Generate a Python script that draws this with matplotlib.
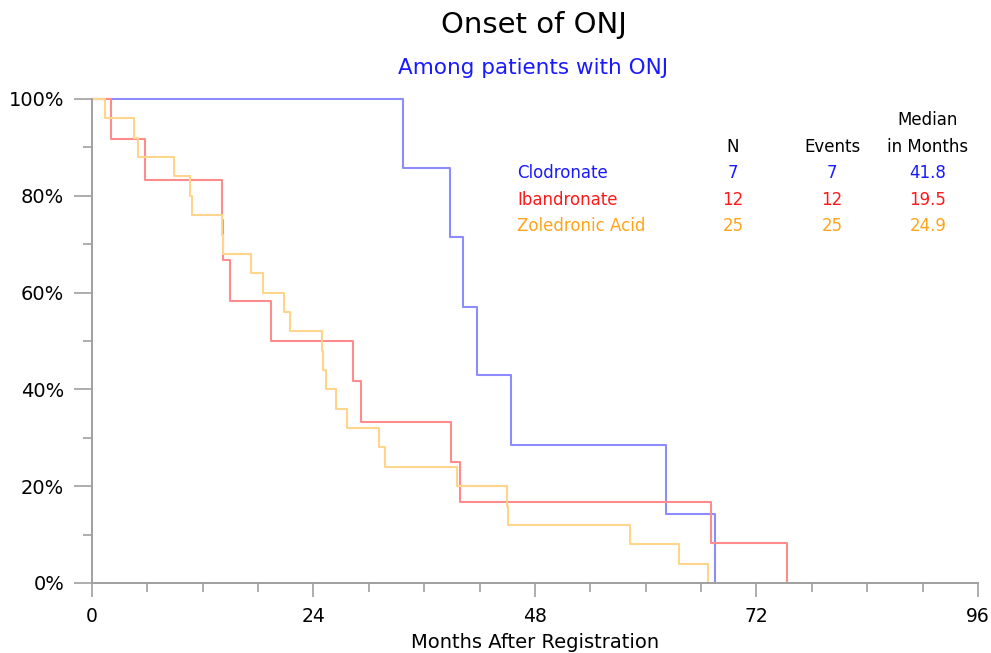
import matplotlib
matplotlib.use('Agg')
import matplotlib.pyplot as plt
from matplotlib.ticker import MultipleLocator, FuncFormatter

# Kaplan-Meier steps (months, percent still free of onset)
clod_t = [0, 33.7, 38.8, 40.2, 41.7, 45.4, 62.2, 67.5]
clod_s = [100, 85.7, 71.4, 57.1, 42.9, 28.6, 14.3, 0]

iban_t = [0, 2.1, 5.7, 14.05, 14.2, 14.9, 19.4, 28.3, 29.2, 38.9, 39.9, 67.1, 75.3]
iban_s = [100, 91.7, 83.3, 75.0, 66.7, 58.3, 50.0, 41.7, 33.3, 25.0, 16.7, 8.3, 0]

zol_t = [0, 1.4, 4.5, 5.0, 8.9, 10.6, 10.8, 14.05, 14.2, 17.2, 18.5, 20.8, 21.4,
         24.95, 25.05, 25.4, 26.4, 27.6, 31.1, 31.7, 39.6, 45.0, 45.1, 58.3, 63.6, 66.7]
zol_s = [100, 96, 92, 88, 84, 80, 76, 72, 68, 64, 60, 56, 52,
         48, 44, 40, 36, 32, 28, 24, 20, 16, 12, 8, 4, 0]

groups = ['Clodronate', 'Ibandronate', 'Zoledronic Acid']
n_pat = ['7', '12', '25']
n_events = ['7', '12', '25']
medians = ['41.8', '19.5', '24.9']

text_cols = ['#1a1aff', '#ff1a1a', '#ffa41a']
line_cols = ['#8c8cff', '#ff8c8c', '#ffd58c']
grey = '#a0a0a0'

fig = plt.figure(figsize=(9.91, 6.53), dpi=100)
ax = fig.add_axes([92 / 991, 1 - 583 / 653, 886 / 991, 484 / 653])

for t, s, c in zip([clod_t, iban_t, zol_t], [clod_s, iban_s, zol_s], line_cols):
    ax.step(t, s, where='post', color=c, lw=1.5, clip_on=False)

ax.set_xlim(0, 96)
ax.set_ylim(0, 100)
ax.spines['top'].set_visible(False)
ax.spines['right'].set_visible(False)
for side in ['left', 'bottom']:
    ax.spines[side].set_color(grey)
    ax.spines[side].set_linewidth(1.4)

ax.xaxis.set_major_locator(MultipleLocator(24))
ax.xaxis.set_minor_locator(MultipleLocator(6))
ax.yaxis.set_major_locator(MultipleLocator(20))
ax.yaxis.set_minor_locator(MultipleLocator(10))
ax.yaxis.set_major_formatter(FuncFormatter(lambda v, p: '%d%%' % v))

ax.tick_params(axis='x', which='major', length=10, width=1.2, color=grey, pad=7, labelsize=13.5)
ax.tick_params(axis='x', which='minor', length=6.5, width=1.2, color=grey)
ax.tick_params(axis='y', which='major', length=13, width=1.2, color=grey, pad=7, labelsize=14)
ax.tick_params(axis='y', which='minor', length=6.5, width=1.2, color=grey)

fig.text(534 / 991, 1 - 25 / 653, 'Onset of ONJ', ha='center', va='center', fontsize=21)
fig.text(533 / 991, 1 - 68 / 653, 'Among patients with ONJ', ha='center', va='center',
         fontsize=15.5, color=text_cols[0])
fig.text(535 / 991, 1 - 643 / 653, 'Months After Registration', ha='center', va='center',
         fontsize=14)

# summary table at the upper right
fs = 12
fig.text(928 / 991, 1 - 120 / 653, 'Median', ha='center', va='center', fontsize=fs)
fig.text(733 / 991, 1 - 147 / 653, 'N', ha='center', va='center', fontsize=fs)
fig.text(832 / 991, 1 - 147 / 653, 'Events', ha='center', va='center', fontsize=fs)
fig.text(928 / 991, 1 - 147 / 653, 'in Months', ha='center', va='center', fontsize=fs)
rows_y = [173, 200, 226]
for i in range(3):
    y = 1 - rows_y[i] / 653
    fig.text(517 / 991, y, groups[i], ha='left', va='center', fontsize=fs, color=text_cols[i])
    fig.text(733 / 991, y, n_pat[i], ha='center', va='center', fontsize=fs, color=text_cols[i])
    fig.text(832 / 991, y, n_events[i], ha='center', va='center', fontsize=fs, color=text_cols[i])
    fig.text(928 / 991, y, medians[i], ha='center', va='center', fontsize=fs, color=text_cols[i])

fig.savefig('out.png', dpi=100)
